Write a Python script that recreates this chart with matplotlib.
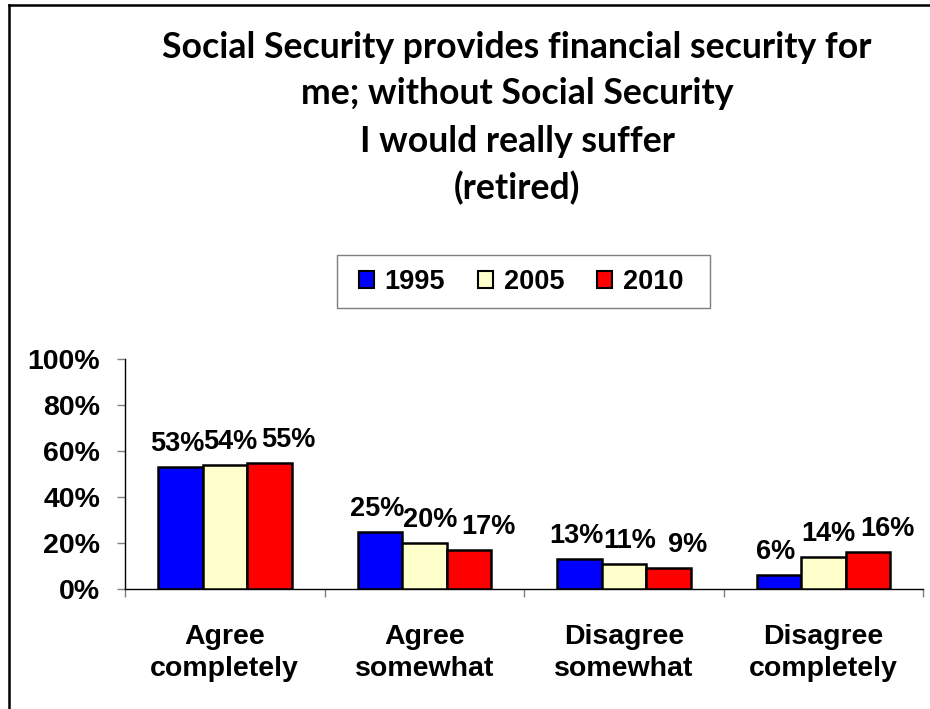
import matplotlib

matplotlib.use("Agg")
import matplotlib.pyplot as plt
import numpy as np
from matplotlib.lines import Line2D
from matplotlib.patches import Patch, Rectangle
from matplotlib.ticker import FixedLocator, FuncFormatter

categories = ["Agree\ncompletely", "Agree\nsomewhat", "Disagree\nsomewhat", "Disagree\ncompletely"]
years = ["1995", "2005", "2010"]
share_1995 = [53, 25, 13, 6]
share_2005 = [54, 20, 11, 14]
share_2010 = [55, 17, 9, 16]
y_ticks = [0, 20, 40, 60, 80, 100]

title_lines = [
    "Social Security provides financial security for",
    "me; without Social Security",
    "I would really suffer",
    "(retired)",
]

colors = ["#0000FF", "#FFFFCC", "#FF0000"]
label_dx = [-2, 4, 14]  # points, per series

W, H = 930, 709
plt.rcParams["font.family"] = ["Liberation Sans", "DejaVu Sans"]

fig = plt.figure(figsize=(W / 100, H / 100), dpi=100)
fig.patch.set_facecolor("white")

# outer frame (left and top edges)
fig.add_artist(Line2D([8.7 / W, 8.7 / W], [0, 1 - 5 / H], transform=fig.transFigure, color="black", lw=1.8))
fig.add_artist(Line2D([8.7 / W, 1], [1 - 5 / H, 1 - 5 / H], transform=fig.transFigure, color="black", lw=1.8))

title_y = [48, 94, 142, 188]
for line, yy in zip(title_lines, title_y):
    fig.text(517 / W, 1 - yy / H, line, ha="center", va="center",
             fontsize=25.7, fontweight="bold", family=["Lato", "DejaVu Sans"])

ax = fig.add_axes([125 / W, 1 - 589 / H, 798 / W, 230 / H])
x = np.arange(len(categories))
bar_w = 44.5 / 199.5
series = [share_1995, share_2005, share_2010]
for i, (vals, col, year) in enumerate(zip(series, colors, years)):
    xs = x + (i - 1) * bar_w
    ax.bar(xs, vals, bar_w, color=col, edgecolor="black", linewidth=1.8, label=year, zorder=3)
    for xi, v in zip(xs, vals):
        ax.annotate(f"{v}%", (xi, v), xytext=(label_dx[i], 11.5), textcoords="offset points",
                    ha="center", va="baseline", fontsize=19.5, fontweight="bold", annotation_clip=False)

ax.set_xlim(-0.5, len(categories) - 0.5)
ax.set_ylim(0, 100)
for s in ["top", "right"]:
    ax.spines[s].set_visible(False)
for s in ["left", "bottom"]:
    ax.spines[s].set_color("black")
    ax.spines[s].set_linewidth(1.0)

ax.set_yticks(y_ticks)
ax.yaxis.set_major_formatter(FuncFormatter(lambda v, _: f"{v:.0f}%"))
ax.tick_params(axis="y", length=5.8, width=1, color="#808080", pad=12, labelsize=20.5)
for lbl in ax.get_yticklabels():
    lbl.set_fontweight("bold")

ax.set_xticks(x)
ax.set_xticklabels(categories, fontsize=20.5, fontweight="bold", linespacing=1.3)
ax.xaxis.set_minor_locator(FixedLocator(np.arange(len(categories) + 1) - 0.5))
ax.tick_params(axis="x", which="major", length=0, pad=25)
ax.tick_params(axis="x", which="minor", length=5.8, width=1, color="#808080")

# legend
handles = [Patch(facecolor=c, edgecolor="black", linewidth=1.5) for c in colors]
fig.legend(handles, years, loc="center", bbox_to_anchor=(521 / W, 1 - 282 / H), ncol=3,
           frameon=False, prop={"weight": "bold", "size": 19.5},
           handlelength=0.58, handleheight=0.58, handletextpad=0.38, columnspacing=1.2)
fig.add_artist(Rectangle((337 / W, 1 - 308 / H), 373 / W, 53 / H, transform=fig.transFigure,
                         fill=False, edgecolor="#7f7f7f", lw=1.0))

fig.savefig("out.png", dpi=100, facecolor="white")
